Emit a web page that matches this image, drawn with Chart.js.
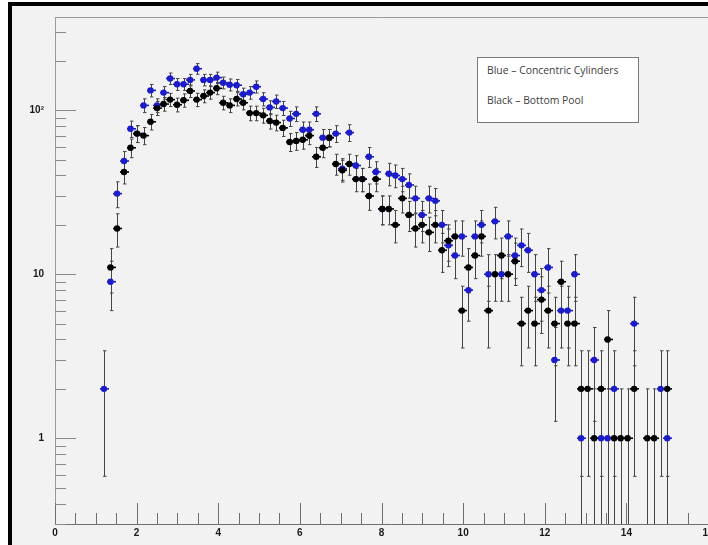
<!DOCTYPE html>
<html><head><meta charset="utf-8">
<script src="https://cdn.jsdelivr.net/npm/chart.js@4.4.1/dist/chart.umd.min.js"></script>
<style>
html,body{margin:0;padding:0;background:#fff;overflow:hidden;width:708px;height:545px;}
#wrap{position:absolute;left:0;top:0;width:730px;height:545px;}
#legend{position:absolute;left:477px;top:57px;width:162px;height:66px;background:#fff;border:1px solid #7a7a7a;box-sizing:border-box;font-family:"Open Sans","Liberation Sans",Arial,sans-serif;font-size:10.4px;color:#404040;}
#legend div{position:absolute;left:9px;white-space:nowrap;line-height:12px;}
</style></head>
<body>
<div id="wrap"><canvas id="c" width="730" height="545"></canvas></div>
<div id="legend"><div style="top:6px">Blue – Concentric Cylinders</div><div style="top:36px">Black – Bottom Pool</div></div>
<script>
// bin centres (x)
const binCenters = [1.20,1.36,1.52,1.69,1.85,2.01,2.17,2.34,2.50,2.66,2.82,2.99,3.15,3.31,3.47,3.64,3.80,3.96,4.12,4.28,
4.45,4.61,4.77,4.93,5.10,5.26,5.42,5.58,5.75,5.91,6.07,6.23,6.40,6.56,6.72,6.88,7.04,7.21,7.37,7.53,
7.69,7.86,8.02,8.18,8.34,8.51,8.67,8.83,8.99,9.16,9.32,9.48,9.64,9.80,9.97,10.13,10.29,10.45,10.62,10.78,
10.94,11.10,11.27,11.43,11.59,11.75,11.92,12.08,12.24,12.40,12.56,12.73,12.89,13.05,13.21,13.38,13.54,13.70,13.86,14.03,
14.19,14.35,14.51,14.68,14.84,15.00];
// Blue – Concentric Cylinders
const blueCounts = [2,9,31,49,77,72,107,132,107,128,156,144,144,153,179,153,153,158,147,143,
142,125,128,139,117,104,113,103,89,95,76,76,95,68,68,72,44,73,46,38,
52,42,25,41,40,38,35,29,23,29,28,20,15,13,17,8,17,20,10,21,
10,17,13,15,14,10,8,11,3,6,6,10,1,null,3,1,1,2,null,null,
5,null,null,null,2,1];
// Black – Bottom Pool
const blackCounts = [null,11,19,42,59,72,70,85,103,109,116,108,115,131,116,122,128,136,111,107,
117,111,96,96,93,86,84,78,64,65,66,70,52,59,68,47,43,47,38,38,
30,38,25,25,20,29,23,19,20,18,20,14,16,17,6,11,13,17,6,10,
13,10,12,5,6,5,7,6,5,9,5,5,2,2,1,2,4,1,1,1,
2,null,1,1,null,2];
const xTickValues = [0,2,4,6,8,10,12,14,16];
const yTickValues = [1,10,100];
const yTickLabels = ['1','10','10\u00B2'];

const toPts = arr => binCenters.map((x,i)=>({x:x,y:arr[i]})).filter(p=>p.y!=null);

const framePlugin = {
  id:'frame',
  beforeDraw(chart){
    const ctx=chart.ctx;
    ctx.save();
    ctx.fillStyle='#ffffff'; ctx.fillRect(0,0,chart.width,chart.height);
    ctx.fillStyle='#f2f2f2'; ctx.fillRect(12,6,chart.width-12,chart.height-6);
    ctx.fillStyle='#000000';
    ctx.fillRect(8,2,chart.width-8,4);
    ctx.fillRect(8,2,4,chart.height-2);
    ctx.restore();
  }
};

const axisPlugin = {
  id:'axes',
  beforeDatasetsDraw(chart){
    const ctx=chart.ctx, a=chart.chartArea, xs=chart.scales.x, ys=chart.scales.y;
    ctx.save();
    ctx.strokeStyle='#9a9a9a'; ctx.lineWidth=1;
    ctx.beginPath();
    ctx.moveTo(a.left+0.5,a.top); ctx.lineTo(a.left+0.5,a.bottom);
    ctx.moveTo(a.left,a.top+0.5); ctx.lineTo(a.right,a.top+0.5);
    ctx.stroke();
    ctx.strokeStyle='#6e6e6e';
    ctx.beginPath();
    ctx.moveTo(a.left,a.bottom+0.5); ctx.lineTo(a.right+20,a.bottom+0.5);
    for(let v=0; v<=16.001; v+=0.5){
      const px=Math.round(xs.getPixelForValue(v))+0.5;
      const len = (Math.abs(v/2-Math.round(v/2))<1e-6)?21:11;
      ctx.moveTo(px,a.bottom); ctx.lineTo(px,a.bottom-len);
    }
    ctx.stroke();
    ctx.strokeStyle='#8a8a8a';
    ctx.beginPath();
    [0.1,1,10,100].forEach(d=>{
      for(let m=1;m<=9;m++){
        const v=m*d;
        if(v<ys.min||v>ys.max) continue;
        const py=Math.round(ys.getPixelForValue(v))+0.5;
        const len=(m===1)?21:11;
        ctx.moveTo(a.left,py); ctx.lineTo(a.left+len,py);
      }
    });
    ctx.stroke();
    // error bars (sqrt N)
    ctx.beginPath(); ctx.rect(a.left,a.top,a.right-a.left,a.bottom-a.top); ctx.clip();
    chart.data.datasets.slice().reverse().forEach(ds=>{
      ds.data.forEach(p=>{
        const e=Math.sqrt(p.y);
        const px=Math.round(xs.getPixelForValue(p.x))+0.5;
        const py=ys.getPixelForValue(p.y);
        const top=ys.getPixelForValue(p.y+e);
        const lo=p.y-e;
        const bot= lo>0 ? ys.getPixelForValue(lo) : a.bottom+5;
        ctx.strokeStyle='#444444'; ctx.lineWidth=1;
        ctx.beginPath();
        ctx.moveTo(px,top); ctx.lineTo(px,bot);
        ctx.moveTo(px-1.5,top); ctx.lineTo(px+2,top);
        if(lo>0){ ctx.moveTo(px-1.5,bot); ctx.lineTo(px+2,bot); }
        ctx.stroke();
        ctx.beginPath();
        ctx.strokeStyle=ds.borderColor; ctx.lineWidth=1.6;
        ctx.moveTo(px-4.5,py); ctx.lineTo(px+4.5,py);
        ctx.stroke();
      });
    });
    ctx.restore();
  }
};

new Chart(document.getElementById('c'),{
  type:'scatter',
  data:{datasets:[
    {label:'Black – Bottom Pool', data:toPts(blackCounts), backgroundColor:'#000000', borderColor:'#000000', pointRadius:3.2, pointBorderWidth:0, pointHoverRadius:3.2},
    {label:'Blue – Concentric Cylinders', data:toPts(blueCounts), backgroundColor:'#1c1cc8', borderColor:'#1c1cc8', pointRadius:3.2, pointBorderWidth:0, pointHoverRadius:3.2}
  ]},
  options:{
    responsive:false, animation:false,
    layout:{padding:{top:8,right:22,left:0,bottom:0}},
    plugins:{legend:{display:false},tooltip:{enabled:false}},
    scales:{
      x:{type:'linear',min:0,max:16,
        grid:{display:false,drawTicks:false}, border:{display:false},
        afterBuildTicks:s=>{s.ticks=xTickValues.map(v=>({value:v}));},
        afterFit:s=>{s.height=21;},
        ticks:{padding:3,maxRotation:0,autoSkip:false,color:'#1a1a1a',font:{family:'"Liberation Sans",Arial',size:10,weight:'bold'},callback:v=>String(v)}
      },
      y:{type:'logarithmic',min:0.3,max:370,
        grid:{display:false,drawTicks:false}, border:{display:false},
        afterBuildTicks:s=>{s.ticks=yTickValues.map(v=>({value:v}));},
        afterFit:s=>{s.width=55;},
        ticks:{padding:11,autoSkip:false,color:'#1a1a1a',font:{family:'"Liberation Sans",Arial',size:10,weight:'bold'},
          callback:(v)=>{const i=yTickValues.indexOf(v);return i>=0?yTickLabels[i]:'';}}
      }
    }
  },
  plugins:[framePlugin,axisPlugin]
});
</script>
</body></html>
